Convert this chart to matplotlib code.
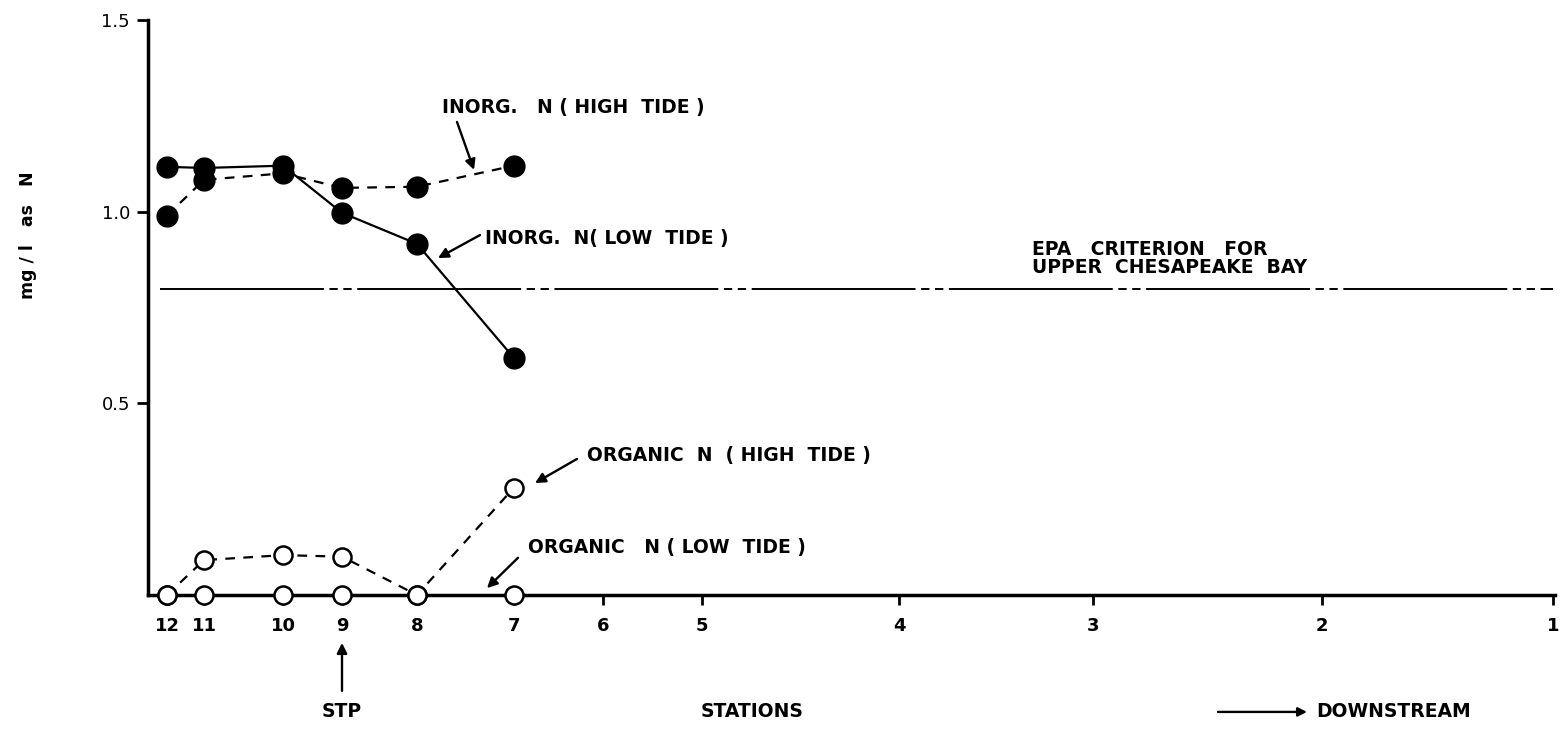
import matplotlib.pyplot as plt

# station positions along the river (arbitrary distance units)
stations = ["12", "11", "10", "9", "8", "7", "6", "5", "4", "3", "2", "1"]
station_dist = [0.19, 0.56, 1.35, 1.94, 2.69, 3.66, 4.55, 5.54, 7.51, 9.45, 11.74, 14.05]

sampled = [0.19, 0.56, 1.35, 1.94, 2.69, 3.66]  # stations 12..7
inorg_high = [0.99, 1.083, 1.10, 1.062, 1.065, 1.12]
inorg_low = [1.117, 1.114, 1.12, 0.997, 0.916, 0.618]
org_high = [0.0, 0.091, 0.104, 0.10, 0.0, 0.28]
org_low = [0.0, 0.0, 0.0, 0.0, 0.0, 0.0]
epa_criterion = 0.797

plt.rcParams["lines.scale_dashes"] = False
plt.rcParams["font.family"] = "DejaVu Sans"
plt.rcParams["font.weight"] = "bold"

fig = plt.figure(figsize=(15.63, 7.29), dpi=100)
ax = fig.add_axes([148 / 1563, 1 - 595 / 729, (1555 - 148) / 1563, (595 - 20) / 729])

# EPA criterion line (long dash - dash - dash)
ax.plot([0.12, 14.05], [epa_criterion] * 2, color="black", lw=1.4,
        dashes=(118, 4, 6, 4, 6, 4))

ax.plot(sampled, inorg_low, "-o", color="black", lw=1.6, ms=15,
        mfc="black", clip_on=False, zorder=3)
ax.plot(sampled, inorg_high, "o", color="black", lw=1.6, ms=15,
        mfc="black", ls=(0, (7, 6)), clip_on=False, zorder=3)
ax.plot(sampled, org_high, "o", color="black", lw=1.6, ms=13,
        mfc="white", mew=1.8, ls=(0, (7, 6)), clip_on=False, zorder=3)
ax.plot(sampled, org_low, "o", color="black", lw=1.6, ms=13,
        mfc="white", mew=1.8, clip_on=False, zorder=4)

ax.set_xlim(0, 14.07)
ax.set_ylim(0, 1.5)
ax.set_xticks(station_dist)
ax.set_xticklabels(stations, fontsize=13, fontweight="bold")
ax.set_yticks([0.5, 1.0, 1.5])
ax.set_yticklabels(["0.5", "1.0", "1.5"], fontsize=13, fontweight="normal")
ax.tick_params(axis="x", direction="out", length=7, width=2, pad=9)
ax.tick_params(axis="y", direction="out", length=8, width=2, pad=5)
ax.spines["top"].set_visible(False)
ax.spines["right"].set_visible(False)
ax.spines["left"].set_linewidth(2.5)
ax.spines["bottom"].set_linewidth(2.5)

ax.set_ylabel("mg / l   as   N", fontsize=12.5, fontweight="bold")
ax.yaxis.set_label_coords(-0.079, 0.626)

fs = 13.5


def arrow(shrink_a=0, shrink_b=0, scale=15):
    return dict(arrowstyle="-|>", color="black", lw=1.7, mutation_scale=scale,
                shrinkA=shrink_a, shrinkB=shrink_b)


ax.text(2.94, 1.271, "INORG.   N ( HIGH  TIDE )", fontsize=fs, ha="left", va="center")
ax.annotate("", xy=(3.26, 1.109), xytext=(3.09, 1.234), arrowprops=arrow())

ax.text(3.37, 0.931, "INORG.  N( LOW  TIDE )", fontsize=fs, ha="left", va="center")
ax.annotate("", xy=(2.90, 0.879), xytext=(3.32, 0.939), arrowprops=arrow())

ax.text(8.84, 0.878, "EPA   CRITERION   FOR\nUPPER  CHESAPEAKE  BAY",
        fontsize=fs, ha="left", va="center", linespacing=0.95)

ax.text(4.39, 0.365, "ORGANIC  N  ( HIGH  TIDE )", fontsize=fs, ha="left", va="center")
ax.annotate("", xy=(3.87, 0.292), xytext=(4.29, 0.355), arrowprops=arrow())

ax.text(3.80, 0.123, "ORGANIC   N ( LOW  TIDE )", fontsize=fs, ha="left", va="center")
ax.annotate("", xy=(3.39, 0.018), xytext=(3.70, 0.097), arrowprops=arrow())

# below-axis labels
ax.annotate("", xy=(1.94, -0.125), xytext=(1.94, -0.25),
            arrowprops=arrow(), annotation_clip=False)
ax.text(1.94, -0.305, "STP", fontsize=fs, ha="center", va="center", clip_on=False)
ax.text(6.04, -0.305, "STATIONS", fontsize=fs, ha="center", va="center", clip_on=False)
ax.annotate("", xy=(11.59, -0.305), xytext=(10.70, -0.305),
            arrowprops=arrow(scale=13), annotation_clip=False)
ax.text(11.68, -0.305, "DOWNSTREAM", fontsize=fs, ha="left", va="center", clip_on=False)

fig.savefig("out.png", dpi=100, facecolor="white")
